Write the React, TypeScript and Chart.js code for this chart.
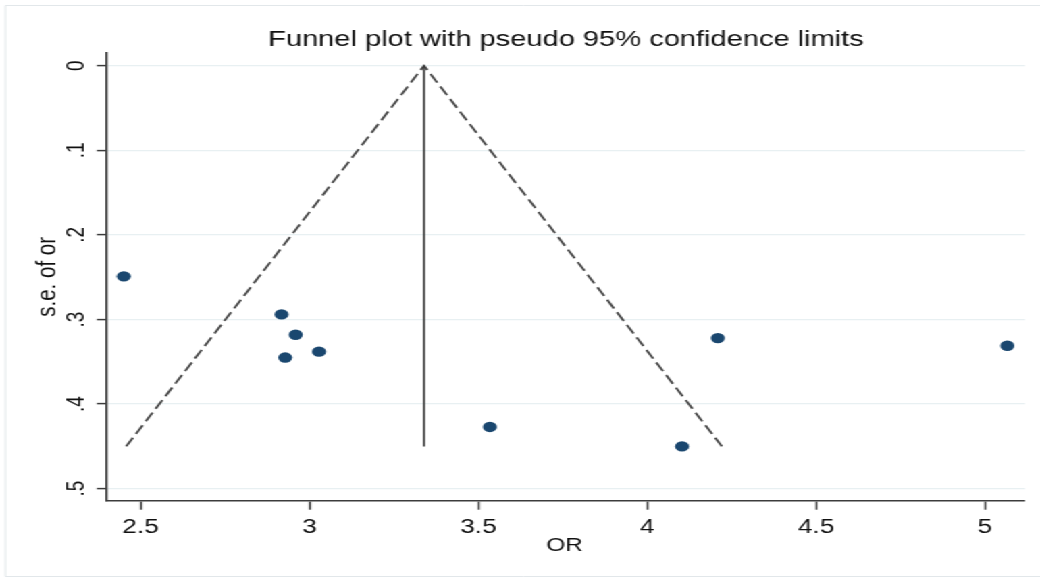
import React, { useEffect, useRef } from "react";
import { Chart, registerables } from "chart.js";

Chart.register(...registerables);

// Texts
const chartTitle = "Funnel plot with pseudo 95% confidence limits";
const xAxisTitle = "OR";
const yAxisTitle = "s.e. of or";

// Study estimates: odds ratio and its standard error
const studyOR = [2.45, 2.917, 2.959, 3.028, 2.928, 3.534, 4.209, 4.103, 5.066];
const studySE = [0.249, 0.294, 0.318, 0.338, 0.345, 0.427, 0.322, 0.45, 0.331];

// Pseudo 95% confidence limits (funnel) and pooled estimate line
const limitOR = [2.457, 3.339, 4.221];
const limitSE = [0.45, 0, 0.45];
const pooledOR = [3.339, 3.339];
const pooledSE = [0, 0.45];

// Axis ticks
const xTickValues = [2.5, 3, 3.5, 4, 4.5, 5];
const xTickLabels = ["2.5", "3", "3.5", "4", "4.5", "5"];
const yTickValues = [0, 0.1, 0.2, 0.3, 0.4, 0.5];
const yTickLabels = ["0", ".1", ".2", ".3", ".4", ".5"];

// Canvas is drawn narrower and widened by CSS to the graph's aspect
const CANVAS_W = 770;
const CANVAS_H = 579;
const STRETCH_X = 1040 / CANVAS_W;

const FONT = '"Liberation Sans", Arial, Helvetica, sans-serif';
const INK = "#111111";
const AXIS = "#3c3c3c";

const toPoints = (xs: number[], ys: number[]) => xs.map((x, i) => ({ x, y: ys[i] }));

const graphDecor = {
  id: "graphDecor",
  beforeDraw(chart: any) {
    const { ctx, width, height } = chart;
    ctx.save();
    ctx.fillStyle = "#ffffff";
    ctx.fillRect(0, 0, width, height);
    ctx.strokeStyle = "#e2e7ea";
    ctx.lineWidth = 1;
    ctx.beginPath();
    ctx.moveTo(width + 2, 5.5);
    ctx.lineTo(4, 5.5);
    ctx.lineTo(4, height - 2.5);
    ctx.lineTo(width + 2, height - 2.5);
    ctx.stroke();
    ctx.restore();
  },
  afterDraw(chart: any) {
    const { ctx, chartArea, scales } = chart;
    const xs = scales.x;
    const ys = scales.y;
    const midX = (chartArea.left + chartArea.right) / 2;
    ctx.save();
    ctx.fillStyle = INK;
    ctx.textBaseline = "alphabetic";
    ctx.textAlign = "center";

    // graph title
    ctx.font = `21.5px ${FONT}`;
    ctx.fillText(chartTitle, midX, 45.5);

    // x tick labels
    ctx.font = `19.5px ${FONT}`;
    xs.ticks.forEach((t: any) => {
      const i = xTickValues.indexOf(t.value);
      if (i < 0) return;
      ctx.fillText(xTickLabels[i], xs.getPixelForValue(t.value), 533);
    });

    // y tick labels, vertical
    ctx.font = `19px ${FONT}`;
    ys.ticks.forEach((t: any) => {
      const i = yTickValues.indexOf(t.value);
      if (i < 0) return;
      ctx.save();
      ctx.translate(62, ys.getPixelForValue(t.value));
      ctx.rotate(-Math.PI / 2);
      ctx.fillText(yTickLabels[i], 0, 0);
      ctx.restore();
    });

    // axis titles
    ctx.font = `18px ${FONT}`;
    ctx.fillText(xAxisTitle, midX - 1, 550.5);

    ctx.font = `20.5px ${FONT}`;
    ctx.save();
    ctx.translate(40.5, (chartArea.top + chartArea.bottom) / 2);
    ctx.rotate(-Math.PI / 2);
    ctx.fillText(yAxisTitle, 0, 0);
    ctx.restore();

    ctx.restore();
  },
};

export default function App() {
  const canvasRef = useRef<HTMLCanvasElement | null>(null);

  useEffect(() => {
    if (!canvasRef.current) return;
    const chart = new Chart(canvasRef.current, {
      type: "scatter",
      data: {
        datasets: [
          {
            label: "pseudo 95% limits",
            data: toPoints(limitOR, limitSE),
            showLine: true,
            borderColor: "#474747",
            borderWidth: 1.8,
            borderDash: [10, 4.5],
            pointRadius: 0,
            order: 3,
          },
          {
            label: "pooled",
            data: toPoints(pooledOR, pooledSE),
            showLine: true,
            borderColor: "#3a3a3a",
            borderWidth: 1.6,
            pointRadius: 0,
            order: 2,
          },
          {
            label: "studies",
            data: toPoints(studyOR, studySE),
            backgroundColor: "#1a476f",
            borderColor: "#1a476f",
            borderWidth: 0,
            pointRadius: 5.2,
            order: 1,
          },
        ],
      },
      options: {
        responsive: false,
        animation: false,
        devicePixelRatio: 1,
        layout: { padding: { left: 0, right: CANVAS_W - 1025 / STRETCH_X, top: 53, bottom: 0 } },
        plugins: {
          legend: { display: false },
          title: { display: false },
          tooltip: { enabled: false },
        },
        scales: {
          x: {
            type: "linear",
            min: 2.4003,
            max: 5.1184,
            afterBuildTicks: (scale: any) => {
              scale.ticks = xTickValues.map((value) => ({ value }));
            },
            afterFit: (scale: any) => {
              scale.height = CANVAS_H - 500.7;
            },
            ticks: { display: false },
            grid: {
              drawOnChartArea: false,
              drawTicks: true,
              tickLength: 9,
              tickColor: AXIS,
              tickWidth: 1.5,
              color: AXIS,
            },
            border: { display: true, color: AXIS, width: 1.6 },
          },
          y: {
            type: "linear",
            reverse: true,
            min: -0.015,
            max: 0.5142,
            afterBuildTicks: (scale: any) => {
              scale.ticks = yTickValues.map((value) => ({ value }));
            },
            afterFit: (scale: any) => {
              scale.width = 107 / STRETCH_X;
            },
            ticks: { display: false },
            grid: {
              drawOnChartArea: true,
              drawTicks: true,
              tickLength: 7.5,
              tickColor: AXIS,
              tickWidth: 1.5,
              color: "#e8f0f2",
              lineWidth: 1.2,
            },
            border: { display: true, color: AXIS, width: 1.6 },
          },
        },
      },
      plugins: [graphDecor],
    });
    return () => chart.destroy();
  }, []);

  return (
    <div
      style={{
        position: "absolute",
        left: 0,
        top: 0,
        width: CANVAS_W,
        height: CANVAS_H,
        transform: `scale(${STRETCH_X}, 1)`,
        transformOrigin: "0 0",
        background: "#ffffff",
      }}
    >
      <canvas ref={canvasRef} width={CANVAS_W} height={CANVAS_H} />
    </div>
  );
}
